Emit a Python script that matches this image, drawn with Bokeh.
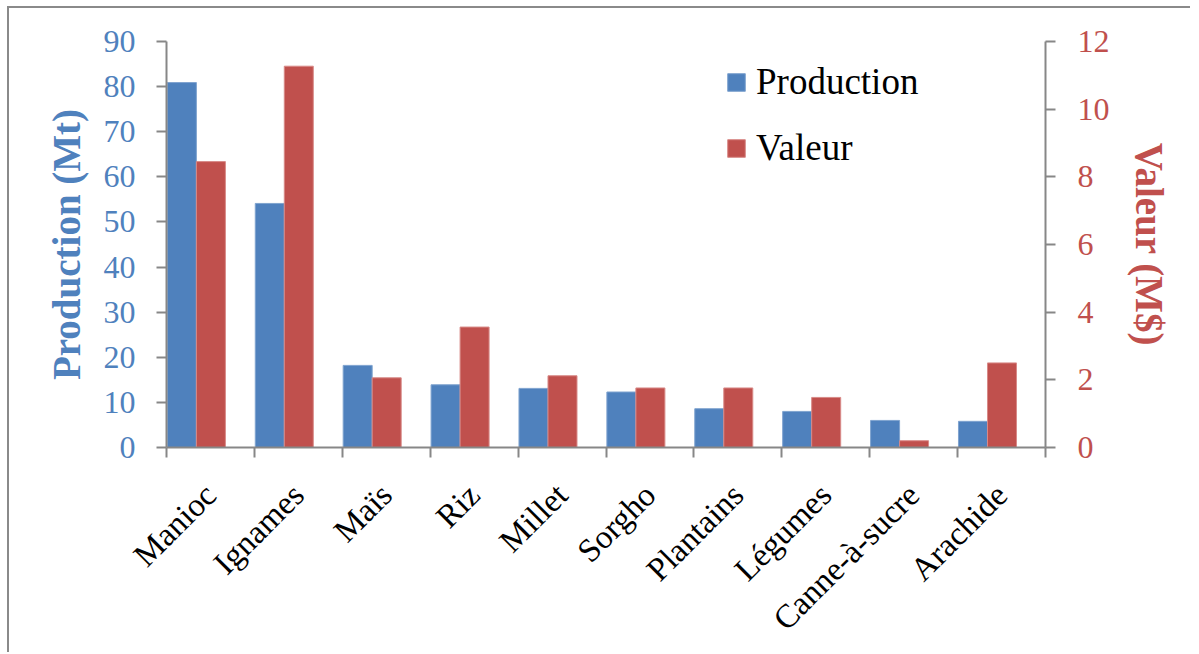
from math import pi
from bokeh.plotting import figure
from bokeh.models import (ColumnDataSource, Range1d, LinearAxis, FixedTicker,
                          Legend, LegendItem)
from bokeh.transform import dodge
from bokeh.embed import file_html
from bokeh.resources import INLINE

categories = ["Manioc", "Ignames", "Maïs", "Riz", "Millet", "Sorgho",
              "Plantains", "Légumes", "Canne-à-sucre", "Arachide"]
production = [80.9, 54.1, 18.2, 13.9, 13.1, 12.3, 8.6, 8.0, 6.0, 5.8]
valeur = [8.45, 11.27, 2.06, 3.56, 2.12, 1.76, 1.76, 1.48, 0.2, 2.5]
left_ticks = [0, 10, 20, 30, 40, 50, 60, 70, 80, 90]
right_ticks = [0, 2, 4, 6, 8, 10, 12]

BLUE = "#4F81BD"
RED = "#C0504D"
GRAY = "#878787"
FONT = "Liberation Serif"

idx = list(range(len(categories)))
src = ColumnDataSource(dict(idx=idx, production=production, valeur=valeur))

p = figure(frame_width=879, frame_height=406,
           min_border_left=157, min_border_top=33,
           min_border_right=145, min_border_bottom=195,
           x_range=Range1d(0, len(categories)), y_range=Range1d(0, 90),
           output_backend="svg", toolbar_location=None,
           background_fill_color="white", border_fill_color="white")
p.outline_line_color = None
p.grid.visible = False
p.styles = {"border-left": "2px solid #8a8a8a", "border-top": "2px solid #8a8a8a",
            "margin-left": "7px", "margin-top": "6px"}

p.extra_y_ranges = {"val": Range1d(0, 12)}

r1 = p.vbar(x=dodge("idx", 0.175, range=p.x_range), top="production", width=0.33,
            source=src, fill_color=BLUE, line_color="#7fa3cf", line_width=1)
r2 = p.vbar(x=dodge("idx", 0.505, range=p.x_range), top="valeur", width=0.33,
            source=src, fill_color=RED, line_color="#d88a88", line_width=1,
            y_range_name="val")

# x axis
xax = p.xaxis[0]
xax.ticker = FixedTicker(ticks=[i + 0.5 for i in idx],
                         minor_ticks=list(range(len(categories) + 1)))
xax.major_label_overrides = {i + 0.5: c for i, c in zip(idx, categories)}
xax.major_label_orientation = pi / 4
xax.major_tick_line_color = None
xax.minor_tick_out = 10
xax.minor_tick_in = 0
xax.minor_tick_line_color = GRAY
xax.minor_tick_line_width = 2
xax.axis_line_color = GRAY
xax.axis_line_width = 2
xax.major_label_text_font = FONT
xax.major_label_text_font_size = "33px"
xax.major_label_text_color = "black"
xax.major_label_standoff = 32

# left axis
yax = p.yaxis[0]
yax.ticker = FixedTicker(ticks=left_ticks)
yax.minor_tick_line_color = None
yax.major_tick_out = 10
yax.major_tick_in = 0
yax.major_tick_line_color = GRAY
yax.major_tick_line_width = 2
yax.axis_line_color = GRAY
yax.axis_line_width = 2
yax.major_label_text_font = FONT
yax.major_label_text_font_size = "32px"
yax.major_label_text_color = BLUE
yax.major_label_standoff = 21
yax.axis_label = "Production (Mt)"
yax.axis_label_text_font = FONT
yax.axis_label_text_font_size = "39px"
yax.axis_label_text_font_style = "bold"
yax.axis_label_text_color = BLUE
yax.axis_label_standoff = 13

# right axis
rax = LinearAxis(y_range_name="val", ticker=FixedTicker(ticks=right_ticks))
rax.minor_tick_line_color = None
rax.major_tick_out = 10
rax.major_tick_in = 0
rax.major_tick_line_color = GRAY
rax.major_tick_line_width = 2
rax.axis_line_color = GRAY
rax.axis_line_width = 2
rax.major_label_text_font = FONT
rax.major_label_text_font_size = "32px"
rax.major_label_text_color = RED
rax.major_label_standoff = 22
rax.axis_label = "Valeur (M$)"
rax.axis_label_text_font = FONT
rax.axis_label_text_font_size = "39px"
rax.axis_label_text_font_style = "bold"
rax.axis_label_text_color = RED
rax.axis_label_standoff = 15
p.add_layout(rax, "right")

legend = Legend(items=[LegendItem(label="Production", renderers=[r1]),
                       LegendItem(label="Valeur", renderers=[r2])],
                location=(559, 278))
legend.padding = 0
legend.margin = 0
legend.border_line_color = None
legend.background_fill_alpha = 0
legend.glyph_width = 22
legend.glyph_height = 22
legend.label_height = 40
legend.spacing = 23
legend.label_standoff = 9
legend.label_text_font = FONT
legend.label_text_font_size = "37px"
legend.label_text_color = "black"
p.add_layout(legend, "center")

open("out.html", "w").write(file_html(p, INLINE))
